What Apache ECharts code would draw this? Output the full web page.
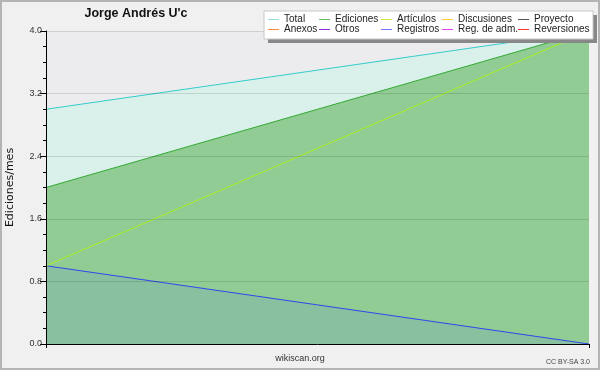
<!DOCTYPE html>
<html><head><meta charset="utf-8">
<script src="https://cdn.jsdelivr.net/npm/echarts@6/dist/echarts.min.js"></script>
<style>html,body{margin:0;padding:0;background:#f0f0f0}#c{width:600px;height:370px}</style>
</head><body><div id="c"></div>
<script>
var categories = ['2023-01', '2023-02'];
var total = [3, 4];
var ediciones = [2, 4];
var articulos = [1, 4];
var registros = [1, 0];
var yTicks = [0, 0.8, 1.6, 2.4, 3.2, 4.0];
var legendNames = ['Total','Ediciones','Artículos','Discusiones','Proyecto','Anexos','Otros','Registros','Reg. de adm.','Reversiones'];
var legendColors = ['#99dddd','#66bb66','#ccee44','#ffcc33','#555555','#ff8844','#8833dd','#7777ff','#dd44ee','#ff3333'];

var chart = echarts.init(document.getElementById('c'), null, {renderer:'canvas'});
var FONT = '"Liberation Sans", Arial, sans-serif';
var colX = [268, 319, 381, 442, 518];
var rowY = [19, 29];
var legendEls = [
  {type:'rect', shape:{x:268, y:15, width:329, height:28}, style:{fill:'#888'}, z:10},
  {type:'rect', shape:{x:264, y:11, width:329, height:28}, style:{fill:'#fff', stroke:'#c8c8c8', lineWidth:1}, z:11}
];
legendNames.forEach(function(n, i){
  var c = i % 5, r = Math.floor(i / 5);
  legendEls.push({type:'line', shape:{x1:colX[c], y1:rowY[r]+0.5, x2:colX[c]+11, y2:rowY[r]+0.5}, style:{stroke:legendColors[i], lineWidth:1}, z:12});
  legendEls.push({type:'text', x:colX[c]+16, y:rowY[r], style:{text:n, fill:'#222', font:'10px '+FONT, verticalAlign:'middle'}, z:12});
});

chart.setOption({
  animation:false,
  backgroundColor:'#f0f0f0',
  grid:{left:46, right:11, top:31, bottom:26, outerBoundsMode:'none', containLabel:false, show:true, backgroundColor:'#ececee', borderWidth:0},
  xAxis:{type:'category', data:categories, boundaryGap:false,
    axisLine:{lineStyle:{color:'#000', width:1}}, axisTick:{show:true, length:4, lineStyle:{color:'#000'}},
    axisLabel:{show:false}, splitLine:{show:false}},
  yAxis:{type:'value', min:0, max:4, interval:0.8, z:5,
    name:'Ediciones/mes', nameLocation:'middle', nameGap:30, nameRotate:90,
    nameTextStyle:{fontFamily:'DejaVu Sans', fontSize:11, color:'#111'},
    axisLine:{show:true, lineStyle:{color:'#000'}},
    axisTick:{show:true, length:6, lineStyle:{color:'#000'}},
    minorTick:{show:true, splitNumber:4, length:3, lineStyle:{color:'#000'}},
    axisLabel:{fontFamily:FONT, fontSize:9, color:'#333', margin:4, formatter:function(v){return v.toFixed(1);}},
    splitLine:{show:true, lineStyle:{color:'rgba(0,0,0,0.12)', width:1}}},
  series:[
    {name:'Total', type:'line', data:total, symbol:'none', z:2, lineStyle:{color:'#33cccc', width:1}, areaStyle:{color:'#daf0ea', opacity:1}},
    {name:'Ediciones', type:'line', data:ediciones, symbol:'none', z:3, lineStyle:{color:'#33aa33', width:1}, areaStyle:{color:'#90cc94', opacity:1}},
    {name:'Registros', type:'line', data:registros, symbol:'none', z:4, lineStyle:{color:'#3344ee', width:1}, areaStyle:{color:'#88c0a0', opacity:1}},
    {name:'Artículos', type:'line', data:articulos, symbol:'none', z:4, lineStyle:{color:'#aaee22', width:1}}
  ],
  graphic:[
    {type:'rect', shape:{x:1, y:1, width:598, height:368}, style:{fill:null, stroke:'#b4b4b4', lineWidth:2}, z:20},
    {type:'text', x:136, y:14, style:{text:'Jorge Andrés U\'c', fill:'#111', font:'bold 12.5px '+FONT, align:'center', verticalAlign:'middle'}},
    {type:'text', x:300, y:359, style:{text:'wikiscan.org', fill:'#333', font:'9px '+FONT, align:'center', verticalAlign:'middle'}},
    {type:'text', x:590, y:362, style:{text:'CC BY-SA 3.0', fill:'#444', font:'7px '+FONT, align:'right', verticalAlign:'middle'}}
  ].concat(legendEls)
});
</script></body></html>
